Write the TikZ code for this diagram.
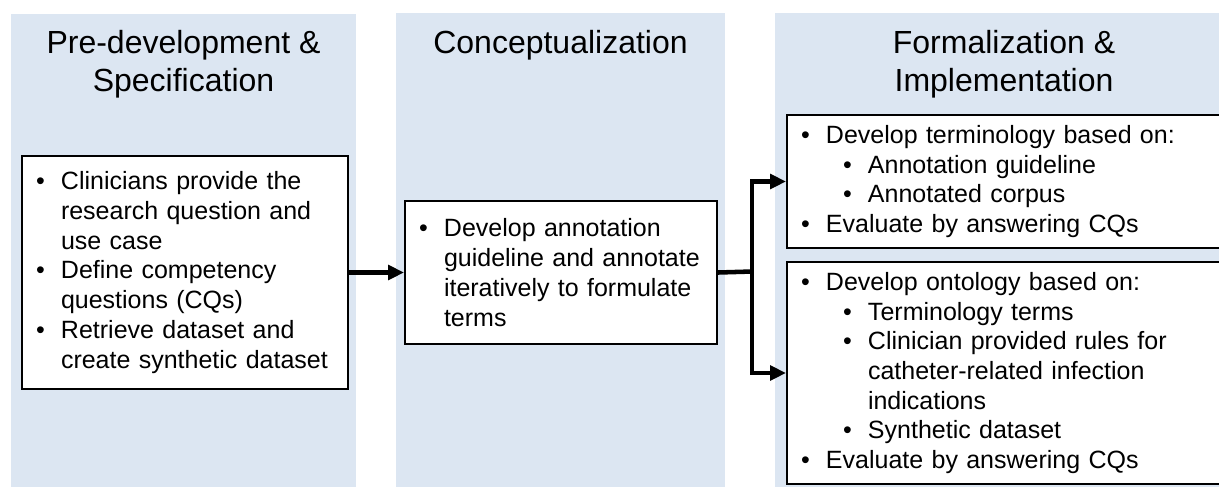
\documentclass[tikz,border=0pt]{standalone}
\usepackage{fontspec}
\setmainfont{Liberation Sans}
\usetikzlibrary{arrows.meta}

\definecolor{panelblue}{RGB}{220,230,242}
\newcommand{\itembullet}{\makebox[18.75pt][l]{\textbullet}}
\newcommand{\itemgap}{\hspace*{18.75pt}}
\newcommand{\subbullet}{\hspace*{12.75pt}\itembullet}
\newcommand{\subgap}{\hspace*{50.25pt}}

\tikzset{every picture/.style={line width=0.75pt},
  panel/.style={fill=panelblue},
  paneltitle/.style={anchor=north, inner sep=0pt, align=center, font=\fontsize{24}{28.8}\selectfont},
  stepbox/.style={draw=black, fill=white, line width=1.5pt, anchor=north west, inner xsep=10.5pt, inner ysep=0pt, align=left, font=\fontsize{18.75}{22.3}\selectfont},
  flowline/.style={line width=3.4pt},
  flowarrow/.style={flowline, -{Triangle[length=12pt,width=11pt]}}
}

\begin{document}
\begin{tikzpicture}[x=0.75pt,y=0.75pt,yscale=-1,xscale=1]
  \useasboundingbox (0,0) rectangle (1219,487);
  \clip (0,0) rectangle (1219,487);

  %Panels
  \fill[panel] (11,14) rectangle (356,487);
  \fill[panel] (396,13) rectangle (725,487);
  \fill[panel] (775,13) rectangle (1233,487);

  % Titles
  \node[paneltitle] (title1) at (183.5,29.5) {Pre-development \&\\Specification};
  \node[paneltitle] (title2) at (560.5,29.5) {Conceptualization};
  \node[paneltitle] (title3) at (1004,29.5) {Formalization \&\\Implementation};

  % Step boxes
  \node[stepbox, text width=223.5pt, minimum height=174.75pt] (spec) at (21,155) {%
    \itembullet Clinicians provide the\\
    \itemgap research question and\\
    \itemgap use case\\
    \itembullet Define competency\\
    \itemgap questions (CQs)\\
    \itembullet Retrieve dataset and\\
    \itemgap create synthetic dataset};
  \node[stepbox, text width=213pt, minimum height=107.25pt] (concept) at (404,200) {%
    \itembullet Develop annotation\\
    \itemgap guideline and annotate\\
    \itemgap iteratively to formulate\\
    \itemgap terms};
  \node[stepbox, text width=310.5pt, minimum height=99.75pt] (term) at (786,114) {%
    \itembullet Develop terminology based on:\\
    \itemgap\subbullet Annotation guideline\\
    \itemgap\subbullet Annotated corpus\\
    \itembullet Evaluate by answering CQs};
  \node[stepbox, text width=310.5pt, minimum height=166.5pt] (onto) at (786,261) {%
    \itembullet Develop ontology based on:\\
    \itemgap\subbullet Terminology terms\\
    \itemgap\subbullet Clinician provided rules for\\
    \subgap catheter-related infection\\
    \subgap indications\\
    \itemgap\subbullet Synthetic dataset\\
    \itembullet Evaluate by answering CQs};

  % Connectors
  \coordinate (fork) at (752,271.5);
  \draw[flowarrow] (spec.east) -- (concept.west);
  \draw[flowline] (concept.east) -- (fork);
  \draw[flowarrow] (fork) |- (term.west);
  \draw[flowarrow] (fork) |- (onto.west);

\end{tikzpicture}
\end{document}
